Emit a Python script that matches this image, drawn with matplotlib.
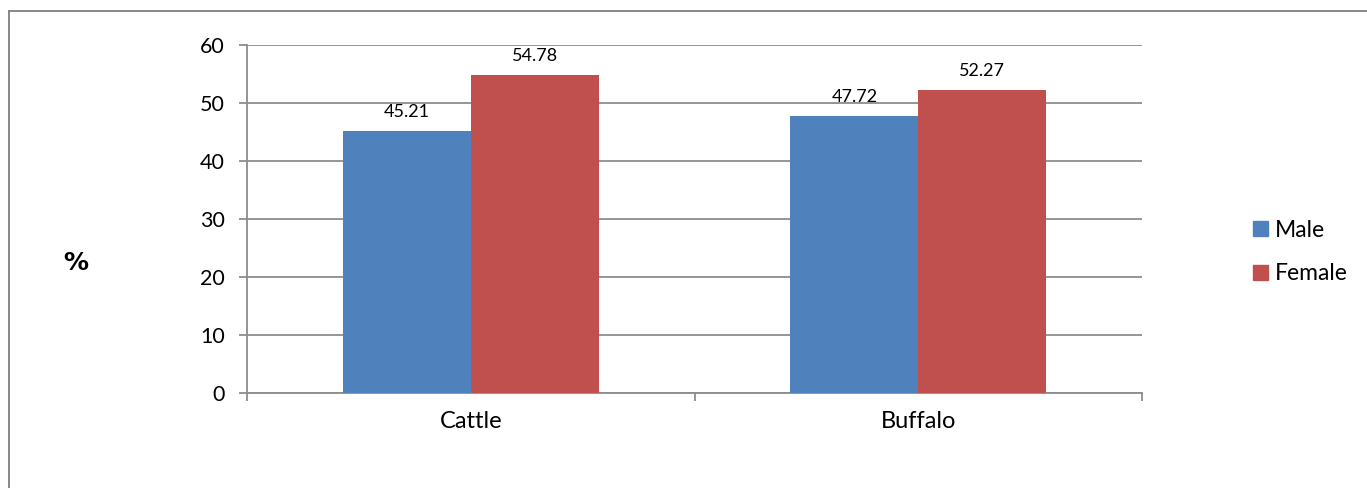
import numpy as np
import matplotlib
matplotlib.use('Agg')
import matplotlib.pyplot as plt
from matplotlib.lines import Line2D
from matplotlib.patches import Patch

#Datos
categories = ['Cattle', 'Buffalo']
male = [45.21, 47.72]
female = [54.78, 52.27]
yticks = [0, 10, 20, 30, 40, 50, 60]

plt.rcParams['font.family'] = ['Lato', 'DejaVu Sans']

blue = '#4F81BD'
red = '#C0504D'
grid_col = '#8C8C8C'

fig = plt.figure(figsize=(13.67, 4.88), dpi=100)
ax = fig.add_axes([0.1807, 0.1947, 0.8354 - 0.1807, 0.9078 - 0.1947])

x = np.arange(len(categories))
w = 1 / 3.5
b1 = ax.bar(x - w / 2, male, w, color=blue, label='Male', zorder=3)
b2 = ax.bar(x + w / 2, female, w, color=red, label='Female', zorder=3)

ax.bar_label(b1, labels=[f'{v:.2f}' for v in male], padding=8, fontsize=13)
ax.bar_label(b2, labels=[f'{v:.2f}' for v in female], padding=8, fontsize=13)

#Ejes
ax.set_xlim(-0.5, len(categories) - 0.5)
ax.set_ylim(0, 60)
ax.set_yticks(yticks)
ax.set_yticklabels([str(t) for t in yticks], fontsize=15.5)
ax.set_xticks(x)
ax.set_xticklabels(categories, fontsize=17)
ax.set_xticks(np.arange(len(categories) + 1) - 0.5, minor=True)
ax.tick_params(axis='x', which='major', length=0, pad=13)
ax.tick_params(axis='x', which='minor', length=6, width=1.3, color=grid_col, direction='out')
ax.tick_params(axis='y', length=6, width=1.3, color=grid_col, pad=10)

#Grilla
ax.yaxis.grid(color=grid_col, lw=1.3, zorder=0)
ax.set_axisbelow(True)

#Spines
ax.spines['top'].set_visible(False)
ax.spines['right'].set_visible(False)
ax.spines['left'].set_color(grid_col)
ax.spines['bottom'].set_color(grid_col)
ax.spines['left'].set_linewidth(1.3)
ax.spines['bottom'].set_linewidth(1.3)

fig.text(76 / 1367, 1 - 263 / 488, '%', fontsize=18, fontweight='bold', family='DejaVu Sans',
         ha='center', va='center')

#Leyenda
handles = [Patch(color=blue, label='Male'), Patch(color=red, label='Female')]
fig.legend(handles=handles, loc='center left', bbox_to_anchor=(1242 / 1367, 1 - 252 / 488),
           frameon=False, fontsize=16.5, handlelength=0.65, handleheight=0.65,
           handletextpad=0.3, labelspacing=1.0, borderpad=0)

#Marco
fig.add_artist(Line2D([9 / 1367, 9 / 1367], [0, 1 - 11 / 488], color='#7F7F7F', lw=1.3))
fig.add_artist(Line2D([9 / 1367, 1], [1 - 11 / 488, 1 - 11 / 488], color='#7F7F7F', lw=1.3))

fig.savefig('out.png', dpi=100)
